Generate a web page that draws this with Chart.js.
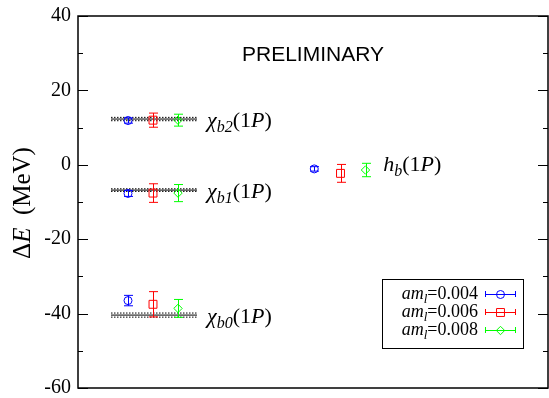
<!DOCTYPE html>
<html><head><meta charset="utf-8">
<script src="https://cdn.jsdelivr.net/npm/chart.js@4"></script>
<style>html,body{margin:0;padding:0;background:#fff}canvas{display:block}</style>
</head><body><canvas id="c" width="549" height="398" style="width:549px;height:398px"></canvas>
<script>
// ---- data ----
const stateSymbols = ['χ', 'χ', 'χ', 'h'];
const stateSubs = ['b2', 'b1', 'b0', 'b'];
const massLabels = ['0.004', '0.006', '0.008'];
const massColors = ['#0000ff', '#ff0000', '#00ff00'];
const massMarkers = ['circle', 'rect', 'rectRot'];
const markerRadius = [4, 5.6, 4.2];
// x slot of each ensemble for chi states and for h_b
const chiX = [2, 3, 4];
const hbX = [9.45, 10.5, 11.5];
// values (MeV) per ensemble: chi_b2, chi_b1, chi_b0, h_b
const dE004 = [11.9, -7.7, -36.5, -1.1];
const err004 = [0.7, 0.8, 1.4, 0.6];
const dE006 = [12.0, -7.6, -37.5, -2.3];
const err006 = [1.9, 2.5, 3.4, 2.4];
const dE008 = [12.0, -7.6, -38.6, -1.4];
const err008 = [1.6, 2.3, 2.4, 1.8];
// experimental bands (chi_b2, chi_b1, chi_b0)
const exptVal = [12.3, -6.8, -40.4];
const exptErr = [0.45, 0.35, 0.55];
const bandFrom = 1.32, bandTo = 4.76;
// label anchors
const labelX = [5.0, 5.0, 5.0, 12.05];
const labelY = [12.3, -6.8, -40.4, 0.4];
const yTicksMin = -60, yTicksMax = 40;

const allVals = [dE004, dE006, dE008];
const allErrs = [err004, err006, err008];

const datasets = [];
for (let j = 0; j < exptVal.length; j++) {
  const e = exptVal[j], s = exptErr[j];
  datasets.push({type:'line', data:[{x:bandFrom,y:e},{x:bandTo,y:e}], borderColor:'#000', borderWidth:1, pointRadius:0, order:5});
  datasets.push({type:'line', data:[{x:bandFrom,y:e+s},{x:bandTo,y:e+s}], borderColor:'#000', borderWidth:1, borderDash:[1.5,1.5], pointRadius:0, order:5});
  datasets.push({type:'line', data:[{x:bandFrom,y:e-s},{x:bandTo,y:e-s}], borderColor:'#000', borderWidth:1, borderDash:[1.5,1.5], pointRadius:0, order:5});
}
for (let k = 0; k < 3; k++) {
  const v = allVals[k];
  datasets.push({
    type:'scatter',
    label:'am_l=' + massLabels[k],
    data:[{x:chiX[k],y:v[0]},{x:chiX[k],y:v[1]},{x:chiX[k],y:v[2]},{x:hbX[k],y:v[3]}],
    errors: allErrs[k],
    borderColor: massColors[k], backgroundColor:'rgba(0,0,0,0)',
    pointStyle: massMarkers[k], pointRadius: markerRadius[k], pointBorderWidth:1,
    order:1
  });
}

function rich(ctx, x, y, parts, align) {
  let w = 0;
  for (const p of parts) { ctx.font = (p.it ? 'italic ' : '') + p.size + 'px "Liberation Serif", serif'; w += ctx.measureText(p.t).width; }
  let cx = align === 'right' ? x - w : (align === 'center' ? x - w/2 : x);
  ctx.textAlign = 'left'; ctx.textBaseline = 'alphabetic';
  for (const p of parts) {
    ctx.font = (p.it ? 'italic ' : '') + p.size + 'px "Liberation Serif", serif';
    ctx.fillText(p.t, cx, y + (p.dy || 0));
    cx += ctx.measureText(p.t).width;
  }
}

const deco = {
  id:'deco',
  afterDatasetsDraw(chart) {
    const ctx = chart.ctx, xs = chart.scales.x, ys = chart.scales.y, a = chart.chartArea;
    ctx.save();
    // error bars
    chart.data.datasets.forEach((ds, di) => {
      if (!ds.errors) return;
      const meta = chart.getDatasetMeta(di);
      ctx.strokeStyle = ds.borderColor; ctx.lineWidth = 1;
      ds.data.forEach((pt, i) => {
        const px = Math.round(meta.data[i].x) + 0.5;
        const yt = ys.getPixelForValue(pt.y + ds.errors[i]);
        const yb = ys.getPixelForValue(pt.y - ds.errors[i]);
        ctx.beginPath();
        ctx.moveTo(px, yt); ctx.lineTo(px, yb);
        ctx.moveTo(px - 4.5, yt); ctx.lineTo(px + 4.5, yt);
        ctx.moveTo(px - 4.5, yb); ctx.lineTo(px + 4.5, yb);
        ctx.stroke();
      });
    });
    // state labels
    ctx.fillStyle = '#000';
    for (let j = 0; j < stateSymbols.length; j++) {
      const px = xs.getPixelForValue(labelX[j]) + 4;
      const py = ys.getPixelForValue(labelY[j]) + 8;
      rich(ctx, px, py, [
        {t:stateSymbols[j], it:true, size:22},
        {t:stateSubs[j], it:true, size:16, dy:5},
        {t:'(1', it:false, size:22},
        {t:'P', it:true, size:22},
        {t:')', it:false, size:22}
      ]);
    }
    // PRELIMINARY
    ctx.font = '21px "Liberation Sans", Arial, sans-serif';
    ctx.textAlign = 'center'; ctx.textBaseline = 'alphabetic';
    ctx.fillText('PRELIMINARY', 313, 61);
    // frame
    ctx.strokeStyle = '#000'; ctx.lineWidth = 1.5;
    ctx.strokeRect(a.left, a.top, a.right - a.left, a.bottom - a.top);
    // inner ticks
    ctx.lineWidth = 1;
    ys.ticks.forEach(t => {
      const py = Math.round(ys.getPixelForValue(t.value)) + 0.5;
      const len = (t.value % 20 === 0) ? 10 : 5;
      ctx.beginPath();
      ctx.moveTo(a.left, py); ctx.lineTo(a.left + len, py);
      ctx.moveTo(a.right, py); ctx.lineTo(a.right - len, py);
      ctx.stroke();
    });
    // y-axis title
    ctx.save();
    ctx.translate(30, 203); ctx.rotate(-Math.PI/2);
    rich(ctx, 0, 0, [
      {t:'Δ', it:false, size:25}, {t:'E', it:true, size:25}, {t:'  (MeV)', it:false, size:25}
    ], 'center');
    ctx.restore();
    // legend
    const L = 382, T = 279, R = 523, B = 348;
    ctx.lineWidth = 1; ctx.strokeStyle = '#000';
    ctx.strokeRect(L + 0.5, T + 0.5, R - L, B - T);
    chart.data.datasets.forEach((ds, di) => {
      if (!ds.errors) return;
      const k = di - 9;
      const cy = 294 + k * 18;
      ctx.fillStyle = '#000';
      rich(ctx, 478, cy + 5, [
        {t:'am', it:true, size:18}, {t:'l', it:true, size:13, dy:4}, {t:'=' + massLabels[k], it:false, size:18}
      ], 'right');
      ctx.strokeStyle = ds.borderColor;
      ctx.beginPath();
      ctx.moveTo(485, cy + 0.5); ctx.lineTo(515, cy + 0.5);
      ctx.moveTo(485.5, cy - 3); ctx.lineTo(485.5, cy + 3);
      ctx.moveTo(515.5, cy - 3); ctx.lineTo(515.5, cy + 3);
      ctx.stroke();
      ctx.fillStyle = 'rgba(0,0,0,0)';
      Chart.helpers.drawPoint(ctx, {pointStyle: ds.pointStyle, radius: ds.pointRadius, borderWidth:1}, 500.5, cy + 0.5);
    });
    ctx.restore();
  }
};

new Chart(document.getElementById('c'), {
  data:{datasets},
  options:{
    responsive:false, animation:false,
    layout:{autoPadding:false, padding:{top:16, right:1, bottom:10, left:0}},
    plugins:{legend:{display:false}, tooltip:{enabled:false}},
    scales:{
      x:{type:'linear', min:0, max:18.8, display:false},
      y:{type:'linear', min:yTicksMin, max:yTicksMax,
        afterFit(s){ s.width = 78; s.paddingTop = 0; s.paddingBottom = 0; },
        grid:{display:false, drawTicks:false},
        border:{display:false},
        ticks:{stepSize:10, padding:7, color:'#000',
          font:{family:'"Liberation Serif", serif', size:20},
          callback:(v)=> (v % 20 === 0 ? String(v) : '')}
      }
    }
  },
  plugins:[deco]
});
</script></body></html>
